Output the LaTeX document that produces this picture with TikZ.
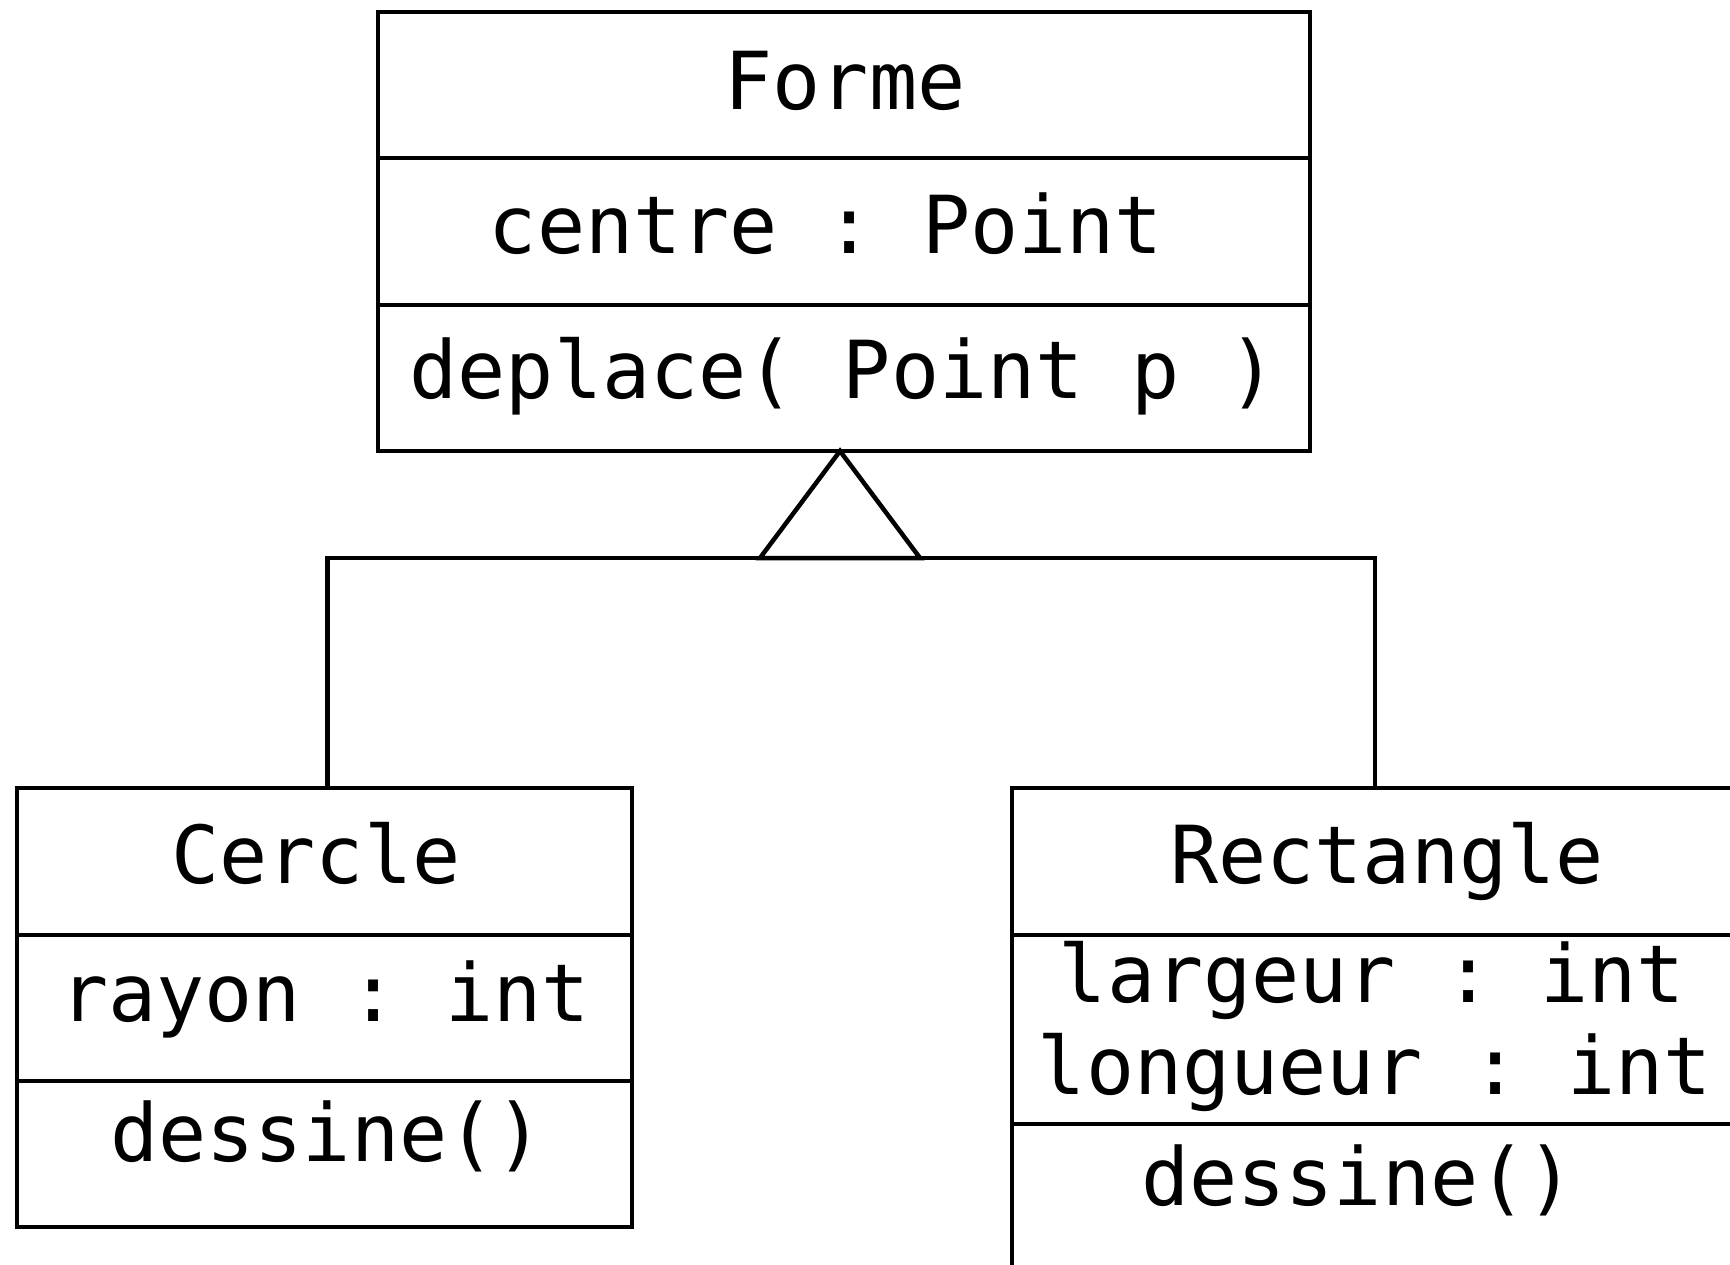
\documentclass[tikz,border=0pt]{standalone}
\usepackage{fontspec}
\setmonofont{DejaVu Sans Mono}
\begin{document}
\begin{tikzpicture}[x=1pt,y=-1pt,line width=4.5pt,
  box/.style={draw,rectangle,inner sep=0pt,outer sep=0pt},
  txt/.style={anchor=base,inner sep=0pt,font=\ttfamily\fontsize{80}{96}\selectfont}]
\useasboundingbox (0,0) rectangle (1730,1265);
\clip (0,0) rectangle (1730,1265);
% boxes
\node[box,minimum width=932pt,minimum height=439pt] (forme) at (844,231.5) {};
\node[box,minimum width=615pt,minimum height=439pt] (cercle) at (324.5,1007.5) {};
\node[box,minimum width=726pt,minimum height=520pt] (rect) at (1375,1048) {};
% dividers
\draw (forme.west |- 0,158) -- (forme.east |- 0,158);
\draw (forme.west |- 0,305) -- (forme.east |- 0,305);
\draw (cercle.west |- 0,935) -- (cercle.east |- 0,935);
\draw (cercle.west |- 0,1081) -- (cercle.east |- 0,1081);
\draw (rect.west |- 0,935) -- (rect.east |- 0,935);
\draw (rect.west |- 0,1124) -- (rect.east |- 0,1124);
% texts
\node[txt] (t1) at (845,110) {Forme};
\node[txt] (t2) at (826,254) {centre : Point};
\node[txt] (t3) at (843,399) {deplace( Point p )};
\node[txt] (t4) at (316,883) {Cercle};
\node[txt] (t5) at (325,1021) {rayon : int};
\node[txt] (t6) at (327,1161) {dessine()};
\node[txt] (t7) at (1387,883) {Rectangle};
\node[txt] (t8) at (1372,1002) {largeur : int};
\node[txt] (t9) at (1375,1094) {longueur : int};
\node[txt] (t10) at (1358,1205) {dessine()};
% inheritance
\coordinate (apex) at ([xshift=-4pt]forme.south);
\coordinate (j) at (840,558);
\coordinate (cl) at ([xshift=3pt]cercle.north);
\draw[line join=miter] (apex) -- ++(-80,107) -- ++(160,0) -- cycle;
\draw (cl) -- (cl |- j) -- (rect.north |- j) -- (rect.north);
\end{tikzpicture}
\end{document}
